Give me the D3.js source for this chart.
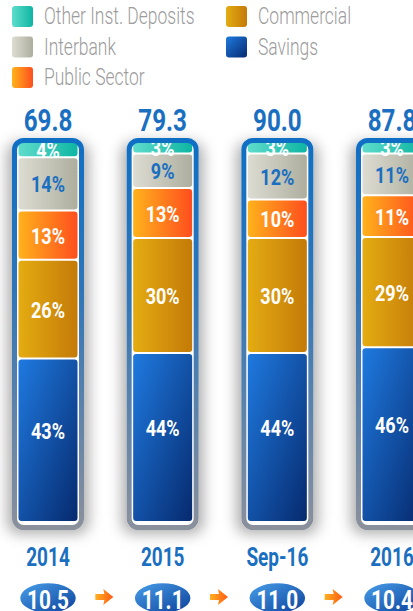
<!DOCTYPE html>
<html>
<head>
<meta charset="utf-8">
<script src="https://cdn.jsdelivr.net/npm/d3@7"></script>
<style>
  html, body { margin: 0; padding: 0; background: #ffffff; }
  svg { display: block; }
  text { font-family: Roboto, "Liberation Sans", Arial, sans-serif; }
</style>
</head>
<body>
<svg id="chart" width="413" height="611"></svg>
<script>
// Deposit structure by period (share of total, %)
const periods = ["2014", "2015", "Sep-16", "2016"];
const totals = [69.8, 79.3, 90.0, 87.8];
const ratios = [10.5, 11.1, 11.0, 10.4];
const savings = [43, 44, 44, 46];
const commercial = [26, 30, 30, 29];
const publicSector = [13, 13, 10, 11];
const interbank = [14, 9, 12, 11];
const otherInst = [4, 3, 3, 3];

// Series, bottom of the stack first
const seriesNames = ["Savings", "Commercial", "Public Sector", "Interbank", "Other Inst. Deposits"];
const seriesValues = [savings, commercial, publicSector, interbank, otherInst];
const seriesColors = {
  "Savings":              { a: "#1f7ae0", b: "#062a6e", dir: "diag", label: "#ffffff" },
  "Commercial":           { a: "#e4ac12", b: "#c47a08", dir: "horiz", label: "#ffffff" },
  "Public Sector":        { a: "#ffb21c", b: "#ff4e1e", dir: "horiz", label: "#ffffff" },
  "Interbank":            { a: "#dcdcd2", b: "#aeae9f", dir: "horiz", label: "#1a6fc0" },
  "Other Inst. Deposits": { a: "#5fdccb", b: "#0eb5a3", dir: "horiz", label: "#ffffff" }
};
const legendOrder = [
  ["Other Inst. Deposits", 0, 0], ["Interbank", 0, 1], ["Public Sector", 0, 2],
  ["Commercial", 1, 0], ["Savings", 1, 1]
];

const blue = "#1a6fc0";
const svg = d3.select("#chart");
const defs = svg.append("defs");

// condensed text: regular face squeezed horizontally
function condText(parent, tx, ty, str, opts) {
  const g = parent.append("g")
    .attr("transform", `translate(${tx},${ty}) scale(${opts.sx || 0.78},1)`);
  return g.append("text")
    .attr("text-anchor", opts.anchor || "middle")
    .attr("font-size", opts.size)
    .attr("font-weight", opts.weight || "bold")
    .attr("fill", opts.fill)
    .text(str);
}

// gradients
seriesNames.forEach((name, i) => {
  const c = seriesColors[name];
  const g = defs.append("linearGradient").attr("id", "grad" + i)
    .attr("x1", 0).attr("y1", 0)
    .attr("x2", 1).attr("y2", c.dir === "diag" ? 1 : 0);
  g.append("stop").attr("offset", "0%").attr("stop-color", c.a);
  g.append("stop").attr("offset", "100%").attr("stop-color", c.b);
});
const frameGrad = defs.append("linearGradient").attr("id", "frameGrad")
  .attr("x1", 0).attr("y1", 0).attr("x2", 0).attr("y2", 1);
frameGrad.append("stop").attr("offset", "0%").attr("stop-color", "#0f6fc4");
frameGrad.append("stop").attr("offset", "40%").attr("stop-color", "#3076b8");
frameGrad.append("stop").attr("offset", "100%").attr("stop-color", "#8a909c");
const ovalGrad = defs.append("linearGradient").attr("id", "ovalGrad")
  .attr("x1", 0).attr("y1", 0).attr("x2", 1).attr("y2", 1);
ovalGrad.append("stop").attr("offset", "0%").attr("stop-color", "#4aa0ea");
ovalGrad.append("stop").attr("offset", "100%").attr("stop-color", "#0a3f9a");
const arrowGrad = defs.append("linearGradient").attr("id", "arrowGrad")
  .attr("x1", 0).attr("y1", 0).attr("x2", 1).attr("y2", 0);
arrowGrad.append("stop").attr("offset", "0%").attr("stop-color", "#ffb020");
arrowGrad.append("stop").attr("offset", "100%").attr("stop-color", "#ff5a14");
const blur = defs.append("filter").attr("id", "shadow")
  .attr("x", "-60%").attr("y", "-10%").attr("width", "220%").attr("height", "120%");
blur.append("feGaussianBlur").attr("stdDeviation", 7);

// Legend
const legend = svg.append("g");
legendOrder.forEach(([name, col, row]) => {
  const i = seriesNames.indexOf(name);
  const lx = col === 0 ? 12 : 226, ly = 6 + row * 30.5;
  legend.append("rect").attr("x", lx).attr("y", ly).attr("width", 21).attr("height", 21)
    .attr("rx", 3).attr("fill", `url(#grad${i})`);
  condText(legend, lx + 32, ly + 18, name,
    { size: 23, weight: 300, fill: "#9c9c9c", anchor: "start", sx: 0.76 });
});

// Scales
const x = d3.scalePoint().domain(periods).range([48, 392]);
const frameTop = 138, frameBottom = 530, frameW = 72;
const innerTop = 143, innerBottom = 523, segW = 59;

periods.forEach((p, j) => {
  const cx = x(p);
  const g = svg.append("g");
  const total = d3.sum(seriesValues, v => v[j]);
  const y = d3.scaleLinear().domain([0, total]).range([innerBottom, innerTop]);

  // soft shadow around the column
  g.append("rect").attr("x", cx - frameW / 2 - 5).attr("y", frameTop + 4)
    .attr("width", frameW + 10).attr("height", frameBottom - frameTop)
    .attr("rx", 12).attr("fill", "#8c8c8c").attr("opacity", 0.7)
    .attr("filter", "url(#shadow)");
  // white inner background
  g.append("rect").attr("x", cx - frameW / 2).attr("y", frameTop)
    .attr("width", frameW).attr("height", frameBottom - frameTop)
    .attr("rx", 11).attr("fill", "#ffffff");

  const clipId = "clip" + j;
  defs.append("clipPath").attr("id", clipId).append("rect")
    .attr("x", cx - frameW / 2 + 4).attr("y", innerTop)
    .attr("width", frameW - 8).attr("height", innerBottom - innerTop);
  const inner = g.append("g").attr("clip-path", `url(#${clipId})`);

  let acc = 0;
  seriesNames.forEach((name, i) => {
    const v = seriesValues[i][j];
    const y0 = y(acc), y1 = y(acc + v);
    acc += v;
    inner.append("rect")
      .attr("x", cx - segW / 2).attr("y", y1)
      .attr("width", segW).attr("height", Math.max(0, y0 - y1 - 2))
      .attr("rx", 3).attr("fill", `url(#grad${i})`);
    const lift = name === "Savings" ? 10 : 0;
    condText(inner, cx, (y0 + y1) / 2 + 7.5 - lift, v + "%",
      { size: 22.5, fill: seriesColors[name].label, sx: 0.8 });
  });

  // frame
  g.append("rect").attr("x", cx - frameW / 2 + 2.5).attr("y", frameTop + 2.5)
    .attr("width", frameW - 5).attr("height", frameBottom - frameTop - 5)
    .attr("rx", 9).attr("fill", "none")
    .attr("stroke", "url(#frameGrad)").attr("stroke-width", 5);

  // total
  condText(svg, cx, 131, d3.format(".1f")(totals[j]), { size: 31, fill: blue, sx: 0.78 });

  // period label
  condText(svg, cx, 566, p, { size: 25, fill: blue, sx: 0.76 });

  // ratio oval
  svg.append("ellipse").attr("cx", cx).attr("cy", 598).attr("rx", 28.5).attr("ry", 15.5)
    .attr("fill", "url(#ovalGrad)").attr("stroke", "#ffffff").attr("stroke-width", 1.5);
  condText(svg, cx, 609, d3.format(".1f")(ratios[j]), { size: 26, fill: "#ffffff", sx: 0.8 });

  // arrow to next period
  if (j < periods.length - 1) {
    const ax = (cx + x(periods[j + 1])) / 2 - 1, ay = 597;
    svg.append("path")
      .attr("d", `M${ax - 9},${ay - 3} L${ax},${ay - 3} L${ax - 1},${ay - 8} L${ax + 9},${ay} L${ax - 1},${ay + 8} L${ax},${ay + 3} L${ax - 9},${ay + 3} Z`)
      .attr("fill", "url(#arrowGrad)");
  }
});
</script>
</body>
</html>
